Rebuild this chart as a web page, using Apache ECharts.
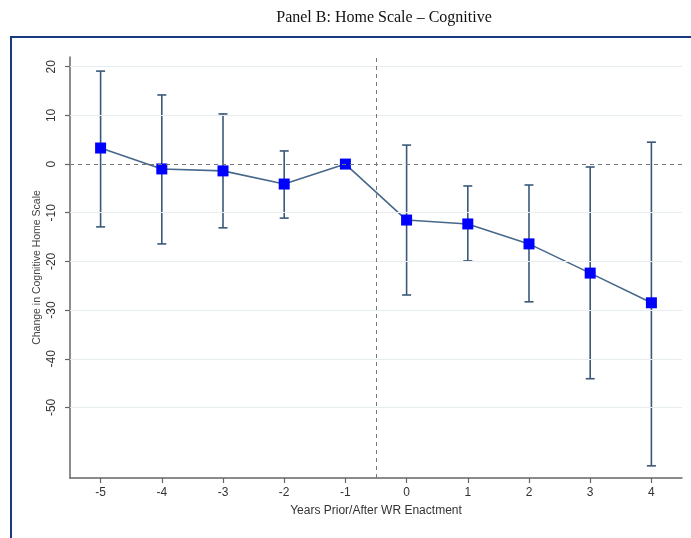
<!DOCTYPE html>
<html>
<head>
<meta charset="utf-8">
<script src="https://cdn.jsdelivr.net/npm/echarts@6/dist/echarts.min.js"></script>
<style>
html,body{margin:0;padding:0;background:#fff;}
#chart{width:691px;height:538px;}
</style>
</head>
<body>
<div id="chart"></div>
<script>
const years = [-5, -4, -3, -2, -1, 0, 1, 2, 3, 4];
const estimate = [3.3, -1.0, -1.4, -4.1, 0, -11.5, -12.3, -16.4, -22.4, -28.5];
const ciLower = [-12.9, -16.4, -13.1, -11.1, null, -26.9, -19.9, -28.3, -44.1, -62.0];
const ciUpper = [19.1, 14.2, 10.3, 2.7, null, 3.9, -4.5, -4.3, -0.6, 4.5];
const yTicks = [-50, -40, -30, -20, -10, 0, 10, 20];
const xTicks = years;

const lineData = years.map((y, i) => [y, estimate[i]]);
const barData = [];
years.forEach((y, i) => { if (ciLower[i] !== null) barData.push([y, ciLower[i], ciUpper[i]]); });

const chart = echarts.init(document.getElementById('chart'));
const barColor = '#3a5878';
const option = {
  animation: false,
  backgroundColor: '#fff',
  graphic: [
    { type: 'text', x: 384, y: 10, style: { text: 'Panel B: Home Scale \u2013 Cognitive', font: '16px "Liberation Serif", "Times New Roman", serif', fill: '#111', textAlign: 'center', textVerticalAlign: 'top' } },
    { type: 'rect', shape: { x: 11, y: 37, width: 700, height: 520 }, style: { fill: 'none', stroke: '#1a3a80', lineWidth: 2 }, z: 100 }
  ],
  grid: { left: 70, right: 9, top: 57, bottom: 60, outerBoundsMode: 'none' },
  xAxis: {
    type: 'value', min: -5.5, max: 4.5,
    name: 'Years Prior/After WR Enactment', nameLocation: 'middle', nameGap: 27,
    nameTextStyle: { fontFamily: 'Liberation Sans, Arial', fontSize: 12, color: '#333' },
    axisLine: { show: true, onZero: false, lineStyle: { color: '#666', width: 1.5 } },
    axisTick: { show: true, customValues: xTicks, length: 5, lineStyle: { color: '#666', width: 1.2 } },
    axisLabel: { customValues: xTicks, fontFamily: 'Liberation Sans, Arial', fontSize: 12, color: '#333', margin: 9 },
    splitLine: { show: false }
  },
  yAxis: {
    type: 'value', min: -64.5, max: 22,
    name: 'Change in Cognitive Home Scale', nameLocation: 'middle', nameGap: 27, nameMoveOverlap: false,
    nameTextStyle: { fontFamily: 'Liberation Sans, Arial', fontSize: 10.5, color: '#444' },
    axisLine: { show: true, onZero: false, lineStyle: { color: '#666', width: 1.5 } },
    axisTick: { show: true, customValues: yTicks, length: 5, lineStyle: { color: '#666', width: 1.2 } },
    axisLabel: { customValues: yTicks, rotate: 90, fontFamily: 'Liberation Sans, Arial', fontSize: 12, color: '#333', margin: 12 },
    splitLine: { show: false }
  },
  series: [
    {
      type: 'line', data: [], silent: true,
      markLine: {
        silent: true, symbol: 'none', label: { show: false },
        lineStyle: { color: '#e6edf1', width: 1, type: 'solid' },
        data: yTicks.filter(v => v !== 0).map(v => ({ yAxis: v }))
      }
    },
    {
      type: 'line', data: [], silent: true,
      markLine: {
        silent: true, symbol: 'none', label: { show: false },
        lineStyle: { color: '#777', width: 1, type: [4, 4] },
        data: [{ yAxis: 0 }, { xAxis: -0.5 }]
      }
    },
    {
      type: 'custom', data: barData, silent: true,
      renderItem: function (params, api) {
        const x = api.value(0);
        const lo = api.coord([x, api.value(1)]);
        const hi = api.coord([x, api.value(2)]);
        const w = 4.5;
        const st = { stroke: barColor, lineWidth: 1.6 };
        return {
          type: 'group', children: [
            { type: 'line', shape: { x1: lo[0], y1: lo[1], x2: hi[0], y2: hi[1] }, style: st },
            { type: 'line', shape: { x1: lo[0] - w, y1: lo[1], x2: lo[0] + w, y2: lo[1] }, style: st },
            { type: 'line', shape: { x1: hi[0] - w, y1: hi[1], x2: hi[0] + w, y2: hi[1] }, style: st }
          ]
        };
      },
      z: 3
    },
    {
      type: 'line', data: lineData, symbol: 'rect', symbolSize: 11,
      lineStyle: { color: '#46688a', width: 1.6 },
      itemStyle: { color: '#0000ff', borderColor: '#0000ee', borderWidth: 0 },
      z: 4
    }
  ]
};
chart.setOption(option);
</script>
</body>
</html>
